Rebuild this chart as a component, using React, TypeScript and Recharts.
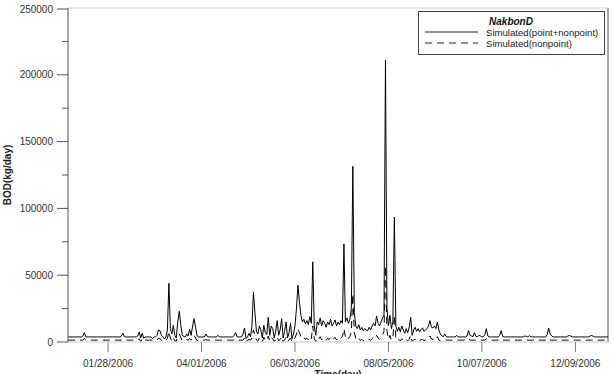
import React from 'react';
import { LineChart, Line, XAxis, YAxis, ReferenceLine } from 'recharts';

// day index 0 = 01/01/2006
const tickDays = [27, 90, 153, 216, 279, 342];
const tickLabels = ['01/28/2006', '04/01/2006', '06/03/2006', '08/05/2006', '10/07/2006', '12/09/2006'];
const yTicks = [0, 25000, 50000, 75000, 100000, 125000, 150000, 175000, 200000, 225000, 250000];

// Simulated(point+nonpoint), kg/day, one value per day
const pointNonpoint = [
  3800, 3800, 3800, 3800, 3800, 3800, 3800, 3800, 3800, 3800,
  4500, 7000, 4000, 3800, 3800, 3800, 3800, 3800, 3800, 3800,
  3800, 3800, 3800, 3800, 3800, 3800, 3800, 3800, 3800, 3800,
  3800, 3800, 3800, 3800, 3800, 3800, 4500, 6500, 4000, 3800,
  3800, 3800, 3800, 3800, 3800, 3800, 3800, 4500, 7500, 3000,
  6500, 2800, 3800, 3800, 3800, 3800, 3800, 2600, 3800, 3800,
  5000, 9000, 8500, 5000, 3800, 2200, 3800, 9000, 44000, 10000,
  6000, 12500, 5000, 3000, 15000, 23000, 13000, 5500, 4000, 3800,
  6000, 4500, 9500, 5000, 12000, 17500, 11000, 4500, 3800, 3800,
  3800, 3800, 3800, 6000, 4000, 3800, 3800, 3800, 3800, 3800,
  3800, 5000, 3800, 3800, 3800, 3800, 3800, 3800, 3800, 3800,
  3800, 3800, 5000, 7000, 3800, 3800, 3800, 3800, 6000, 10500,
  2500, 3800, 6500, 4000, 12000, 37500, 22000, 8000, 6000, 12000,
  9000, 3000, 12500, 7000, 5500, 18500, 5000, 12000, 10000, 3000,
  8000, 16000, 5000, 9000, 17500, 3000, 8000, 15000, 3000, 7000,
  14000, 2500, 6000, 12000, 25000, 42500, 30000, 20000, 15000, 17000,
  13500, 16000, 13000, 19000, 14000, 60000, 12000, 5000, 15000, 13000,
  18000, 12000, 16000, 14000, 11000, 15000, 13000, 17000, 12000, 14000,
  16500, 12000, 15000, 13000, 16000, 14000, 73500, 15000, 18000, 14000,
  17000, 25000, 131500, 22000, 12000, 10000, 13000, 9000, 11000, 8500,
  10000, 9000, 8500, 11000, 9000, 12000, 14000, 12000, 19500, 14000,
  12000, 15000, 18000, 20000, 211000, 25000, 12000, 20000, 10000, 15000,
  93500, 12000, 8000, 11000, 7500, 12000, 9000, 6500, 10000, 7000,
  11000, 18500, 5000, 9000, 11000, 8000, 10000, 7500, 9500, 10500,
  8000, 9000, 10000, 12000, 16000, 11000, 10500, 12000, 10000, 15000,
  9000, 6000, 4500, 4000, 6000, 4000, 3800, 3800, 3800, 3800,
  3800, 3800, 5000, 3800, 3800, 3800, 3800, 3800, 3800, 4500,
  8500, 5000, 4500, 4000, 7000, 4200, 3800, 5000, 4500, 3800,
  4000, 5500, 10000, 4500, 3800, 3800, 3800, 3800, 3800, 3800,
  3800, 5000, 8500, 4200, 3800, 3800, 3800, 3800, 3800, 3800,
  3800, 3800, 3800, 3800, 3800, 3800, 3800, 3800, 4500, 4200,
  3800, 4800, 4000, 3800, 3800, 3800, 3800, 3800, 3800, 3800,
  3800, 3800, 3800, 5500, 10500, 6000, 4500, 3800, 3800, 3800,
  3800, 3800, 3800, 3800, 3800, 3800, 3800, 4500, 4800, 4500,
  3800, 3800, 3800, 3800, 3800, 3800, 3800, 3800, 3800, 3800,
  3800, 3800, 4600, 4800, 4300, 3800, 3800, 3800, 3800, 3800,
  3800, 3800, 3800, 3800, 3800,
];

// Simulated(nonpoint), kg/day
const nonpoint = [
  1400, 1400, 1400, 1400, 1400, 1400, 1400, 1400, 1400, 1400,
  1400, 2500, 1400, 1400, 1400, 1400, 1400, 1400, 1400, 1400,
  1400, 1400, 1400, 1400, 1400, 1400, 1400, 1400, 1400, 1400,
  1400, 1400, 1400, 1400, 1400, 1400, 1400, 2000, 1400, 1400,
  1400, 1400, 1400, 1400, 1400, 1400, 1400, 1400, 2500, 400,
  2000, 300, 1400, 1400, 1400, 1400, 1400, 1400, 1400, 1400,
  1400, 3000, 2500, 1400, 1400, 300, 1400, 2500, 8000, 3000,
  1000, 3500, 800, 600, 4000, 6000, 3500, 1000, 1400, 1400,
  1800, 1400, 2500, 1400, 3000, 5000, 3000, 1000, 1400, 1400,
  1400, 1400, 1400, 1800, 1400, 1400, 1400, 1400, 1400, 1400,
  1400, 1400, 1400, 1400, 1400, 1400, 1400, 1400, 1400, 1400,
  1400, 1400, 1400, 2000, 1400, 1400, 1400, 1400, 1400, 3000,
  200, 1400, 1800, 1400, 3000, 9000, 5000, 1500, 500, 3000,
  2000, 200, 3500, 1500, 800, 4500, 600, 3000, 2500, 200,
  1800, 4000, 700, 2000, 4000, 300, 1800, 3500, 300, 1500,
  3000, 200, 1500, 3000, 6000, 10000, 7000, 4000, 2500, 3500,
  2000, 3000, 1500, 4000, 2500, 12000, 2500, 400, 3000, 2000,
  4000, 1500, 3000, 2000, 1200, 2800, 1800, 3500, 1500, 2500,
  3500, 1500, 3000, 1800, 3200, 4000, 10000, 3500, 4500, 2500,
  4000, 8000, 36000, 7000, 2500, 1500, 2800, 1200, 2000, 900,
  1800, 1200, 800, 2000, 1200, 2500, 3500, 2500, 5000, 3000,
  2000, 3500, 5000, 8000, 57000, 8000, 2000, 5000, 1500, 3000,
  20000, 2500, 1000, 2000, 800, 2500, 1500, 600, 1800, 800,
  2000, 5000, 500, 1500, 2200, 1200, 1800, 900, 1600, 2000,
  1000, 1500, 1800, 2500, 4500, 2200, 2000, 2500, 1600, 4000,
  1500, 800, 1200, 1300, 1800, 1400, 1400, 1400, 1400, 1400,
  1400, 1400, 1400, 1400, 1400, 1400, 1400, 1400, 1400, 1400,
  2200, 1400, 1400, 1400, 1400, 1400, 1400, 1400, 1400, 1400,
  1400, 1400, 2500, 1400, 1400, 1400, 1400, 1400, 1400, 1400,
  1400, 1400, 2200, 1400, 1400, 1400, 1400, 1400, 1400, 1400,
  1400, 1400, 1400, 1400, 1400, 1400, 1400, 1400, 1400, 1400,
  1400, 1400, 1400, 1400, 1400, 1400, 1400, 1400, 1400, 1400,
  1400, 1400, 1400, 1400, 2500, 1400, 1400, 1400, 1400, 1400,
  1400, 1400, 1400, 1400, 1400, 1400, 1400, 1400, 1400, 1400,
  1400, 1400, 1400, 1400, 1400, 1400, 1400, 1400, 1400, 1400,
  1400, 1400, 1400, 1400, 1400, 1400, 1400, 1400, 1400, 1400,
  1400, 1400, 1400, 1400, 1400,
];

const data = pointNonpoint.map((v, i) => ({ day: i, total: v, nonpoint: nonpoint[i] }));

const FONT = '"Liberation Sans", Arial, sans-serif';

const YTick = (props: any) => {
  const { x, y, payload } = props;
  const major = payload.value % 50000 === 0;
  return (
    <g>
      <line x1={x - (major ? 11 : 6)} x2={x} y1={y} y2={y} stroke="#555" />
      {major && (
        <text x={x - 15} y={y} dy={3.5} textAnchor="end" fontSize={10} fill="#333" fontFamily={FONT}>
          {payload.value}
        </text>
      )}
    </g>
  );
};

// legend drawn as an overlay so it takes no room from the plot
const LegendBox = () => (
  <svg
    width={187}
    height={45}
    style={{ position: 'absolute', left: 418, top: 11, display: 'block', fontFamily: FONT }}
  >
    <rect x={0.5} y={0.5} width={186} height={43} fill="#fff" stroke="#444" />
    <text x={93} y={14} textAnchor="middle" fontSize={10} fontWeight="bold" fontStyle="italic" fill="#111">
      NakbonD
    </text>
    <line x1={7} x2={60} y1={21} y2={21} stroke="#222" />
    <text x={68} y={24.5} fontSize={9.6} fill="#222">Simulated(point+nonpoint)</text>
    <line x1={7} x2={60} y1={32} y2={32} stroke="#222" strokeDasharray="7 5" />
    <text x={68} y={35.5} fontSize={9.6} fill="#222">Simulated(nonpoint)</text>
  </svg>
);

export default function App() {
  return (
    <div style={{ position: 'absolute', left: 0, top: 0, width: 613, height: 374 }}>
      <LineChart
        width={613}
        height={374}
        data={data}
        margin={{ top: 8, right: 5, bottom: 0, left: 0 }}
        style={{ fontFamily: FONT }}
      >
        <XAxis
          dataKey="day"
          type="number"
          domain={[0, 364]}
          ticks={tickDays}
          tickFormatter={(v: number) => tickLabels[tickDays.indexOf(v)]}
          height={32}
          tickSize={10}
          tickMargin={8}
          tick={{ fontSize: 10, fill: '#333' }}
          tickLine={{ stroke: '#777' }}
          axisLine={{ stroke: '#ccc' }}
          label={{ value: 'Time(day)', position: 'bottom', offset: -3, fontSize: 10, fontWeight: 'bold', fill: '#222' }}
        />
        <YAxis
          domain={[0, 250000]}
          ticks={yTicks}
          width={68}
          tickSize={0}
          tickMargin={0}
          tickLine={false}
          tick={<YTick />}
          axisLine={{ stroke: '#555' }}
          label={{
            value: 'BOD(kg/day)',
            angle: -90,
            position: 'insideLeft',
            offset: 7,
            fontSize: 10,
            fontWeight: 'bold',
            fill: '#222',
            style: { textAnchor: 'middle' },
          }}
        />
        <ReferenceLine y={250000} stroke="#ccc" />
        <ReferenceLine x={364} stroke="#555" />
        <Line
          type="linear"
          dataKey="total"
          stroke="#000"
          strokeWidth={1}
          dot={false}
          isAnimationActive={false}
        />
        <Line
          type="linear"
          dataKey="nonpoint"
          stroke="#000"
          strokeWidth={1}
          strokeDasharray="7 5"
          dot={false}
          isAnimationActive={false}
        />
      </LineChart>
      <LegendBox />
    </div>
  );
}
